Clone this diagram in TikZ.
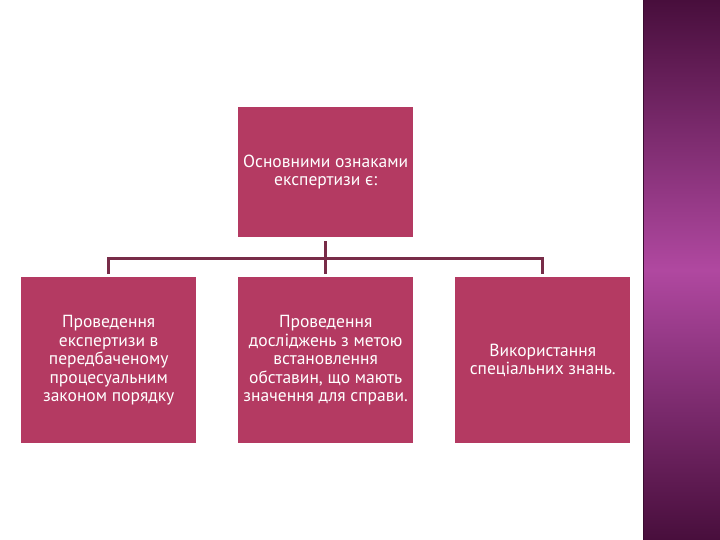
\documentclass[tikz,border=0pt]{standalone}
\usepackage{fontspec}
\setmainfont{PT Sans}
\usetikzlibrary{positioning}
\usetikzlibrary{calc}
\definecolor{boxred}{RGB}{180,58,98}
\definecolor{linered}{RGB}{120,44,72}
\definecolor{stripdark}{RGB}{72,14,60}
\definecolor{stripmid}{RGB}{176,72,160}

\begin{document}
\begin{tikzpicture}[x=1pt,y=-1pt,
		box/.style={fill=boxred,text=white,minimum width=175pt,align=center,inner sep=0pt,font=\fontsize{17.5}{18.5}\selectfont},
		conn/.style={draw=linered,line width=2.6pt}]
		\useasboundingbox (0,0) rectangle (720,540);
		% side strip
		\shade [top color=stripdark,bottom color=stripdark,middle color=stripmid] (643,0) rectangle (720,540);
		\draw [stripdark!80!black,line width=1.5pt] (643.5,0) -- (643.5,540);
		% boxes
		\node (top) [box,minimum height=130pt,anchor=north west] at (238,107) {Основними ознаками\\експертизи є:};
		\node (left) [box,minimum height=166pt,anchor=north west] at (21,277) {Проведення\\експертизи в\\передбаченому\\процесуальним\\законом порядку};
		\node (mid) [box,minimum height=166pt,anchor=north west] at (238,277) {Проведення\\досліджень з метою\\встановлення\\обставин, що мають\\значення для справи.};
		\node (right) [box,minimum height=166pt,anchor=north west] at (455,277) {Використання\\спеціальних знань.};
		% connectors
		\coordinate (hub) at ($(top.south)+(0,21)$);
		\draw [conn] ($(top.south)+(0,4)$) -- ($(mid.north)+(0,-3)$);
		\draw [conn] ($(left.north)+(0,-3)$) |- (hub) -| ($(right.north)+(0,-3)$);
	\end{tikzpicture}
\end{document}
